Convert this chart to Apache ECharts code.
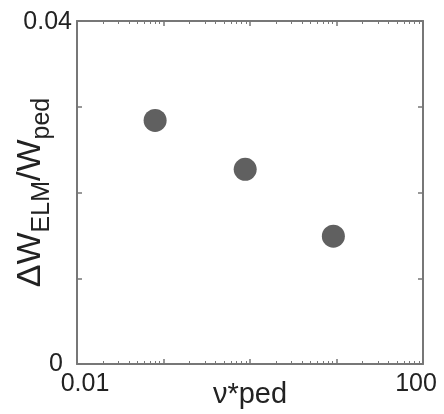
<!DOCTYPE html>
<html>
<head>
<meta charset="utf-8">
<script src="https://cdn.jsdelivr.net/npm/echarts@6/dist/echarts.min.js"></script>
<style>
html,body{margin:0;padding:0;background:#fff;}
#c{width:444px;height:414px;}
</style>
</head>
<body>
<div id="c"></div>
<script>
// data
const nuPed = [0.08, 0.88, 9.2];
const dWratio = [0.0284, 0.0227, 0.0149];
const xTickLabels = ['0.01', '100'];
const yTickLabels = ['0', '0.04'];
const xTitle = 'ν*ped';

const points = nuPed.map((x, i) => [x, dWratio[i]]);
const FONT = '"Liberation Sans", Arial, sans-serif';
const axisColor = '#777';

function isVal(v, t) { return Math.abs(v - t) < 1e-9 * Math.max(1, Math.abs(t)); }

const chart = echarts.init(document.getElementById('c'), null, {renderer: 'canvas'});
const commonLine = {show: true, onZero: false, lineStyle: {color: axisColor, width: 2}};
const xBase = {
  type: 'log', logBase: 10, min: 0.01, max: 100, splitNumber: 4,
  splitLine: {show: false},
  axisLine: commonLine,
  axisTick: {show: true, inside: true, length: 5, lineStyle: {color: axisColor, width: 1.5}},
  minorTick: {show: true, splitNumber: 9, length: 3, lineStyle: {color: axisColor, width: 1}},
  minorSplitLine: {show: false}
};
const yBase = {
  type: 'value', min: 0, max: 0.04, interval: 0.01,
  splitLine: {show: false},
  axisLine: commonLine,
  axisTick: {show: true, inside: true, length: 5, lineStyle: {color: axisColor, width: 1.5}}
};

chart.setOption({
  animation: false,
  backgroundColor: '#fff',
  grid: {left: 77, right: 21, top: 21, bottom: 50, containLabel: false, outerBoundsMode: 'none'},
  xAxis: [
    Object.assign({}, xBase, {
      position: 'bottom',
      name: xTitle,
      nameLocation: 'middle',
      nameGap: 16,
      nameMoveOverlap: false,
      nameTextStyle: {fontFamily: FONT, fontSize: 29, color: '#222', verticalAlign: 'top'},
      axisLabel: {
        show: true, margin: 8, fontFamily: FONT, fontSize: 25, color: '#222',
        formatter: function (v) {
          if (isVal(v, 0.01)) return '{l|' + xTickLabels[0] + '}';
          if (isVal(v, 100)) return '{r|' + xTickLabels[1] + '}';
          return '';
        },
        rich: {
          l: {fontFamily: FONT, fontSize: 25, color: '#222', padding: [0, 0, 0, 16]},
          r: {fontFamily: FONT, fontSize: 25, color: '#222', padding: [0, 14, 0, 0]}
        }
      }
    }),
    Object.assign({}, xBase, {position: 'top', axisLabel: {show: false}})
  ],
  yAxis: [
    Object.assign({}, yBase, {
      position: 'left',
      name: '{a|ΔW}{s|ELM}{a|/W}{s|ped}',
      nameLocation: 'middle',
      nameRotate: 90,
      nameGap: 22,
      nameMoveOverlap: false,
      nameTextStyle: {
        fontFamily: FONT, color: '#222',
        rich: {
          a: {fontFamily: FONT, fontSize: 34, color: '#222', verticalAlign: 'bottom', padding: [0, 0, 7, 0]},
          s: {fontFamily: FONT, fontSize: 25, color: '#222', verticalAlign: 'bottom'}
        }
      },
      axisLabel: {
        show: true, margin: 5, fontFamily: FONT, fontSize: 25, color: '#222',
        formatter: function (v) {
          if (isVal(v, 0)) return '{z|' + yTickLabels[0] + '}';
          if (isVal(v, 0.04)) return '{a|' + yTickLabels[1] + '}';
          return '';
        },
        rich: {
          z: {fontFamily: FONT, fontSize: 25, color: '#222', padding: [0, 9, 0, 0]},
          a: {fontFamily: FONT, fontSize: 25, color: '#222', padding: [2, 0, 0, 0]}
        }
      }
    }),
    Object.assign({}, yBase, {position: 'right', axisLabel: {show: false}})
  ],
  series: [{
    type: 'scatter',
    xAxisIndex: 0, yAxisIndex: 0,
    data: points,
    symbol: 'circle',
    symbolSize: 23,
    itemStyle: {color: '#606060', opacity: 1}
  }]
});
</script>
</body>
</html>
